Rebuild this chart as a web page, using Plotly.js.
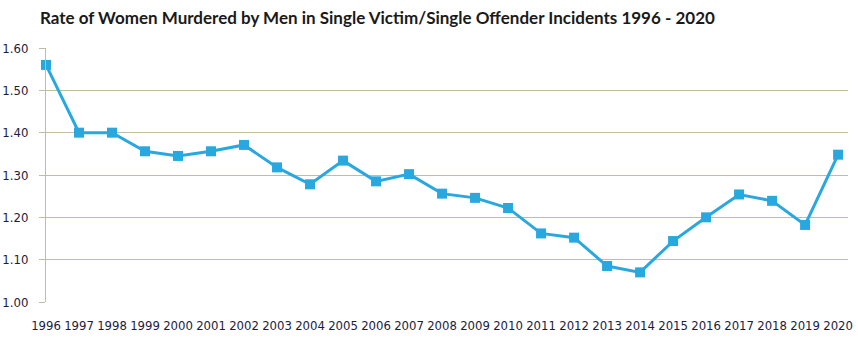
<!DOCTYPE html>
<html>
<head>
<meta charset="utf-8">
<script src="https://cdn.plot.ly/plotly-3.0.1.min.js"></script>
<style>html,body{margin:0;padding:0;background:#fff;}#chart{width:858px;height:346px;}</style>
</head>
<body>
<div id="chart"></div>
<script>
const years = ["1996","1997","1998","1999","2000","2001","2002","2003","2004","2005","2006","2007","2008","2009","2010","2011","2012","2013","2014","2015","2016","2017","2018","2019","2020"];
const rates = [1.56,1.40,1.40,1.356,1.345,1.356,1.371,1.318,1.278,1.334,1.285,1.302,1.256,1.246,1.222,1.162,1.152,1.085,1.07,1.144,1.20,1.254,1.239,1.182,1.348];
const yTicks = [1.0,1.1,1.2,1.3,1.4,1.5,1.6];
const yTickText = ["1.00","1.10","1.20","1.30","1.40","1.50","1.60"];
const chartTitle = "Rate of Women Murdered by Men in Single Victim/Single Offender Incidents 1996 - 2020";

const trace = {
  x: years, y: rates, type: 'scatter', mode: 'lines+markers',
  line: {color: '#29a8e0', width: 3},
  marker: {symbol: 'square', size: 10, color: '#29a8e0'},
  cliponaxis: false, hoverinfo: 'skip'
};
const layout = {
  width: 858, height: 346,
  margin: {l: 46, r: 10, t: 48, b: 44},
  paper_bgcolor: '#ffffff', plot_bgcolor: '#ffffff',
  showlegend: false,
  title: {text: chartTitle, xref: 'container', yref: 'container', x: 40/858, xanchor: 'left', y: 1 - 18/346, yanchor: 'middle',
    font: {family: 'Lato, "Open Sans", sans-serif', size: 17, color: '#1a1a1a', weight: 700}},
  xaxis: {type: 'category', range: [0, 24.3], showgrid: false, zeroline: false,
    showline: false, ticks: '', ticklabelstandoff: 14,
    tickfont: {family: '"Liberation Sans Narrow", "DejaVu Sans Condensed", sans-serif', size: 13, color: '#1c1c3c'}},
  yaxis: {range: [1.0, 1.6], tickvals: yTicks, ticktext: yTickText, showgrid: true, gridcolor: '#bfbe9e', gridwidth: 1,
    zeroline: false, showline: true, linecolor: '#bfbe9e', linewidth: 1, ticks: 'outside', ticklen: 6, tickcolor: '#bfbe9e',
    ticklabelstandoff: 8,
    tickfont: {family: '"Liberation Sans Narrow", "DejaVu Sans Condensed", sans-serif', size: 13, color: '#1c1c3c'}}
};
Plotly.newPlot('chart', [trace], layout, {displayModeBar: false, staticPlot: true});
</script>
</body>
</html>
